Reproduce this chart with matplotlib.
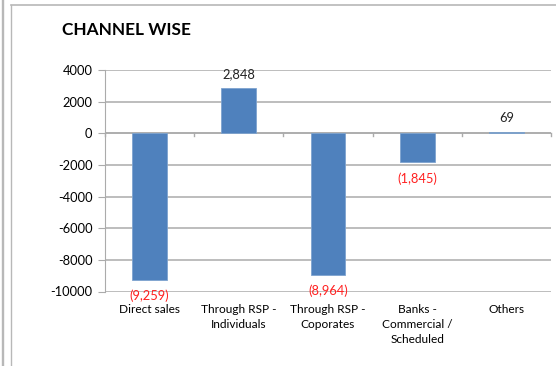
import matplotlib.pyplot as plt
from matplotlib.lines import Line2D

# channel-wise net flows
channels = ["Direct sales", "Through RSP -\nIndividuals", "Through RSP -\nCoporates",
            "Banks -\nCommercial /\nScheduled", "Others"]
values = [-9259, 2848, -8964, -1845, 69]
yticks = [-10000, -8000, -6000, -4000, -2000, 0, 2000, 4000]

plt.rcParams['font.family'] = ['Lato', 'DejaVu Sans']

fig = plt.figure(figsize=(5.56, 3.66), dpi=100)
ax = fig.add_axes([105 / 556, 1 - 291.5 / 366, 446 / 556, 221.5 / 366])

grid_c = '#ababab'
x = range(len(channels))
ax.bar(x, values, width=0.39, color='#4f81bd', edgecolor='#7ea3cf', linewidth=0.6, zorder=3)

for xi, v in zip(x, values):
    if v >= 0:
        ax.text(xi, v + 900, f"{v:,}", ha='center', va='center', fontsize=9.3, color='#222222')
    else:
        ax.text(xi, v - 1000, f"({-v:,})", ha='center', va='center', fontsize=9.3,
                color='#ff2020', zorder=4)

ax.set_xlim(-0.5, len(channels) - 0.5)
ax.set_ylim(-10000, 4000)
ax.set_yticks(yticks)
ax.set_yticklabels([str(t) for t in yticks], fontsize=9.3)
for t in yticks:
    ax.axhline(t, color=grid_c, lw=1.1, zorder=1)

# zero line with category divider ticks
ax.axhline(0, color=grid_c, lw=1.1, zorder=2)
for b in range(len(channels) + 1):
    ax.plot([b - 0.5, b - 0.5], [0, -180], color=grid_c, lw=1.0, zorder=2, clip_on=False)

ax.set_xticks(list(x))
ax.set_xticklabels(channels, fontsize=8.6, linespacing=1.45)
ax.tick_params(axis='x', length=0, pad=9)
ax.tick_params(axis='y', length=5, color=grid_c, pad=4)
for s in ['top', 'right', 'bottom']:
    ax.spines[s].set_visible(False)
ax.spines['left'].set_color(grid_c)

fig.text(62 / 556, 1 - 30 / 366, "CHANNEL WISE", fontsize=12.4, fontweight='bold', va='center', ha='left')

# outer frame lines
for xp in [1.5, 3.0, 11.0]:
    fig.add_artist(Line2D([xp / 556, xp / 556], [0, 1 - (5 if xp > 10 else 0) / 366],
                          color='#b8b8b8', lw=1.0))
fig.add_artist(Line2D([11 / 556, 1], [1 - 5 / 366, 1 - 5 / 366], color='#b8b8b8', lw=1.2))

fig.savefig("out.png", dpi=100)
